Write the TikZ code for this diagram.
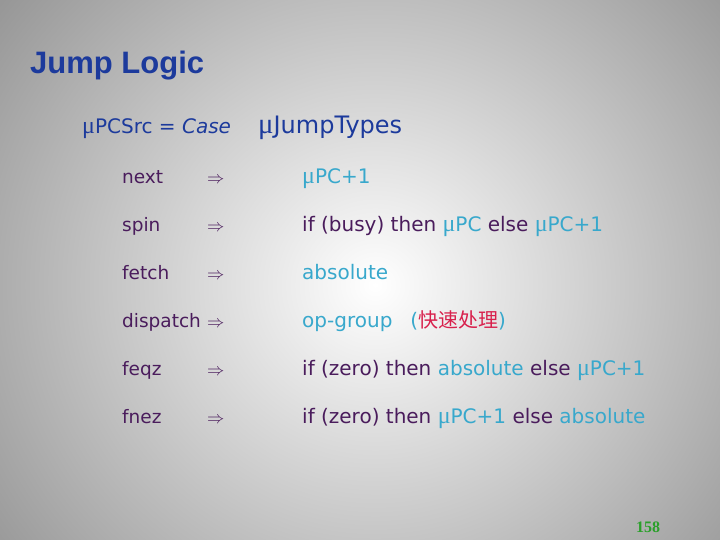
\documentclass[tikz,border=0pt]{standalone}
\usepackage{fontspec}
\setmainfont{DejaVu Sans}
\newfontfamily\titlefont{Liberation Sans}
\newfontfamily\cjk{Noto Sans CJK SC}
\newfontfamily\numfont{Liberation Serif}
\definecolor{tblue}{HTML}{1C3A9C}
\definecolor{lpurp}{HTML}{4A1C5C}
\definecolor{cy}{HTML}{38A8CC}
\definecolor{rd}{HTML}{D8204C}
\definecolor{gn}{HTML}{2AA02A}
\newcommand{\mup}{{\numfont\scalebox{1.2}{\char"03BC}}}
\begin{document}
\begin{tikzpicture}[x=1pt,y=1pt,
  lab/.style={anchor=base west,inner sep=0,font=\fontsize{20}{24}\selectfont},
  lft/.style={lab,text=lpurp,font=\fontsize{18.5}{22}\selectfont},
  rgt/.style={lab,text=lpurp}]
\useasboundingbox (0,0) rectangle (720,540);
\shade[inner color=white,outer color=black!45] (-150,-250) rectangle (900,760);
\node[anchor=base west,inner sep=0,text=tblue,font=\titlefont\bfseries\fontsize{31}{36}\selectfont] (title) at (30,466) {Jump Logic};
\node[anchor=base west,inner sep=0,text=tblue,font=\fontsize{20}{24}\selectfont] (src) at (82,406) {\mup PCSrc = \textit{Case}};
\node[anchor=base west,inner sep=0,text=tblue,font=\fontsize{24}{30}\selectfont] (jt) at (258,406) {\mup JumpTypes};
\foreach \n/\y/\l in {a/356/next,b/308/spin,c/260/fetch,d/212/dispatch,e/164/feqz,f/116/fnez}{
  \node[lft] (l\n) at (122,\y) {\l};
  \node[lft] (ar\n) at (207,\y) {$\Rightarrow$};
}
\node[rgt] (ra) at (302,356) {\textcolor{cy}{\mup PC+1}};
\node[rgt] (rb) at (302,308) {if (busy) then \textcolor{cy}{\mup PC} else \textcolor{cy}{\mup PC+1}};
\node[rgt] (rc) at (302,260) {\textcolor{cy}{absolute}};
\node[rgt] (rd) at (302,212) {\textcolor{cy}{op-group\hspace{18pt}(\textcolor{rd}{\cjk 快速处理})}};
\node[rgt] (re) at (302,164) {if (zero) then \textcolor{cy}{absolute} else \textcolor{cy}{\mup PC+1}};
\node[rgt] (rf) at (302,116) {if (zero) then \textcolor{cy}{\mup PC+1} else \textcolor{cy}{absolute}};
\node[anchor=base,inner sep=0,text=gn,font=\numfont\bfseries\fontsize{16}{18}\selectfont] (pg) at (648,7) {158};
\end{tikzpicture}
\end{document}
